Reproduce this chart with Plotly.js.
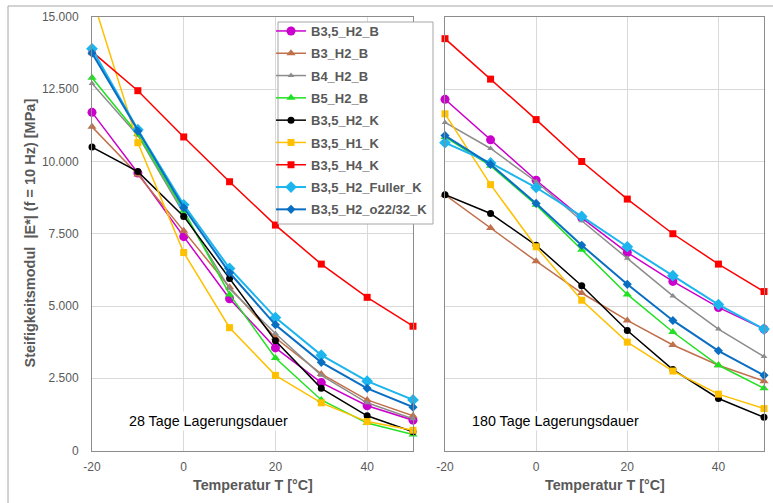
<!DOCTYPE html>
<html>
<head>
<meta charset="utf-8">
<script src="https://cdn.plot.ly/plotly-3.0.1.min.js"></script>
<style>html,body{margin:0;padding:0;background:#fff;}#chart{width:773px;height:503px;}</style>
</head>
<body>
<div id="chart"></div>
<script>
const temps = [-20, -10, 0, 10, 20, 30, 40, 50];
const seriesNames = ["B3,5_H2_B", "B3_H2_B", "B4_H2_B", "B5_H2_B", "B3,5_H2_K", "B3,5_H1_K", "B3,5_H4_K", "B3,5_H2_Fuller_K", "B3,5_H2_o22/32_K"];

// 28 Tage Lagerungsdauer
const d28_B35_H2_B = [11700, 9600, 7400, 5250, 3550, 2350, 1550, 1050];
const d28_B3_H2_B  = [11200, 9550, 7600, 5650, 3900, 2650, 1750, 1200];
const d28_B4_H2_B  = [12700, 10900, 8200, 5600, 4050, 2600, 1650, 1100];
const d28_B5_H2_B  = [12900, 10950, 8300, 5400, 3200, 1750, 950, 550];
const d28_B35_H2_K = [10500, 9650, 8100, 5950, 3800, 2150, 1200, 650];
const d28_B35_H1_K = [15700, 10650, 6850, 4250, 2600, 1650, 1000, 700];
const d28_B35_H4_K = [13800, 12450, 10850, 9300, 7800, 6450, 5300, 4300];
const d28_Fuller_K = [13900, 11100, 8500, 6300, 4600, 3300, 2400, 1750];
const d28_o2232_K  = [13750, 11050, 8400, 6150, 4350, 3050, 2150, 1500];

// 180 Tage Lagerungsdauer
const d180_B35_H2_B = [12150, 10750, 9350, 8050, 6850, 5850, 4950, 4200];
const d180_B3_H2_B  = [8850, 7700, 6550, 5450, 4500, 3650, 2950, 2400];
const d180_B4_H2_B  = [11350, 10450, 9300, 7950, 6650, 5350, 4200, 3250];
const d180_B5_H2_B  = [10850, 9850, 8500, 6950, 5400, 4100, 2950, 2150];
const d180_B35_H2_K = [8850, 8200, 7100, 5700, 4150, 2800, 1800, 1150];
const d180_B35_H1_K = [11650, 9200, 7050, 5200, 3750, 2750, 1950, 1450];
const d180_B35_H4_K = [14250, 12850, 11450, 10000, 8700, 7500, 6450, 5500];
const d180_Fuller_K = [10650, 9950, 9100, 8100, 7050, 6050, 5050, 4200];
const d180_o2232_K  = [10900, 9900, 8550, 7100, 5750, 4500, 3450, 2600];

const yTickVals = [0, 2500, 5000, 7500, 10000, 12500, 15000];
const yTickText = ["0", "2.500", "5.000", "7.500", "10.000", "12.500", "15.000"];
const xTickVals = [-20, 0, 20, 40];
const xTickText = ["-20", "0", "20", "40"];

const left = [d28_B35_H2_B, d28_B3_H2_B, d28_B4_H2_B, d28_B5_H2_B, d28_B35_H2_K, d28_B35_H1_K, d28_B35_H4_K, d28_Fuller_K, d28_o2232_K];
const right = [d180_B35_H2_B, d180_B3_H2_B, d180_B4_H2_B, d180_B5_H2_B, d180_B35_H2_K, d180_B35_H1_K, d180_B35_H4_K, d180_Fuller_K, d180_o2232_K];

const styles = [
  {color: "#CC00CC", symbol: "circle", size: 9, width: 1.5},
  {color: "#C0704A", symbol: "triangle-up", size: 8, width: 1.5},
  {color: "#8C8C8C", symbol: "triangle-up", size: 6, width: 1.5},
  {color: "#22E022", symbol: "triangle-up", size: 8, width: 1.5},
  {color: "#000000", symbol: "circle", size: 7, width: 1.5},
  {color: "#FFC000", symbol: "square", size: 7, width: 1.5},
  {color: "#FF0000", symbol: "square", size: 7, width: 1.5},
  {color: "#1CB5EE", symbol: "diamond", size: 9, width: 2},
  {color: "#0A6FC2", symbol: "diamond", size: 7, width: 2}
];

const traces = [];
function addPanel(data, xa, ya, showLeg) {
  data.forEach((vals, i) => {
    const s = styles[i];
    traces.push({
      x: temps, y: vals, xaxis: xa, yaxis: ya,
      type: "scatter", mode: "lines+markers",
      name: seriesNames[i], legendgroup: "g" + i, showlegend: showLeg,
      line: {color: s.color, width: s.width},
      marker: {color: s.color, symbol: s.symbol, size: s.size},
      cliponaxis: false
    });
  });
}
addPanel(left, "x", "y", true);
addPanel(right, "x2", "y2", false);

const tickFont = {family: "Liberation Sans, Arial, sans-serif", size: 12, color: "#595959"};
const titleFont = {family: "Liberation Sans, Arial, sans-serif", size: 14.3, color: "#595959", weight: "bold"};
const yDom = [(503 - 450.5) / 503, (503 - 17) / 503];

function xAxis(dom, anchor) {
  return {
    domain: dom, anchor: anchor, range: [-20, 50], tickvals: xTickVals, ticktext: xTickText,
    showgrid: true, gridcolor: "#D9D9D9", gridwidth: 1, zeroline: false,
    showline: true, linecolor: "#8C8C8C", linewidth: 1, mirror: true,
    ticks: "", tickfont: tickFont, ticklabelstandoff: 5, fixedrange: true
  };
}
function yAxis(anchor, showLabels) {
  return {
    domain: yDom, anchor: anchor, range: [0, 15000], tickvals: yTickVals, ticktext: yTickText,
    showgrid: true, gridcolor: "#D9D9D9", gridwidth: 1, zeroline: false,
    showline: true, linecolor: "#8C8C8C", linewidth: 1, mirror: true,
    ticks: "", tickfont: tickFont, showticklabels: showLabels, ticklabelstandoff: 10, fixedrange: true
  };
}

const layout = {
  width: 773, height: 503,
  margin: {l: 0, r: 0, t: 0, b: 0},
  paper_bgcolor: "#FFFFFF", plot_bgcolor: "#FFFFFF",
  showlegend: true,
  xaxis: xAxis([92 / 773, 413 / 773], "y"),
  yaxis: yAxis("x", true),
  xaxis2: xAxis([445 / 773, 764 / 773], "y2"),
  yaxis2: yAxis("x2", false),
  legend: {
    x: 271 / 773, y: 1 - 16 / 503, xanchor: "left", yanchor: "top",
    bgcolor: "rgba(0,0,0,0)", borderwidth: 0,
    font: {family: "Liberation Sans, Arial, sans-serif", size: 13, color: "#595959", weight: "bold"},
    tracegroupgap: 2.4, itemwidth: 30, traceorder: "grouped"
  },
  annotations: [
    {text: "28 Tage Lagerungsdauer", xref: "paper", yref: "paper", x: 127 / 773, y: 1 - 421 / 503,
     xanchor: "left", yanchor: "middle", showarrow: false, bgcolor: "#FFFFFF",
     font: {family: "Liberation Sans, Arial, sans-serif", size: 14.3, color: "#000000"}},
    {text: "180 Tage Lagerungsdauer", xref: "paper", yref: "paper", x: 470 / 773, y: 1 - 421 / 503,
     xanchor: "left", yanchor: "middle", showarrow: false, bgcolor: "#FFFFFF",
     font: {family: "Liberation Sans, Arial, sans-serif", size: 14.3, color: "#000000"}},
    {text: "Steifigkeitsmodul\u00a0 |E*| (f = 10 Hz) [MPa]", xref: "paper", yref: "paper",
     x: 29 / 773, y: 1 - 233.5 / 503, xanchor: "center", yanchor: "middle", textangle: -90,
     showarrow: false, font: {family: "Liberation Sans, Arial, sans-serif", size: 14.5, color: "#595959", weight: "bold"}},
    {text: "Temperatur T [°C]", xref: "paper", yref: "paper", x: 252.5 / 773, y: 1 - 485 / 503,
     xanchor: "center", yanchor: "middle", showarrow: false, font: titleFont},
    {text: "Temperatur T [°C]", xref: "paper", yref: "paper", x: 604.5 / 773, y: 1 - 485 / 503,
     xanchor: "center", yanchor: "middle", showarrow: false, font: titleFont}
  ],
  shapes: [
    {type: "line", xref: "paper", yref: "paper", x0: 8 / 773, x1: 1, y0: 1 - 6 / 503, y1: 1 - 6 / 503,
     line: {color: "#A6A6A6", width: 1}},
    {type: "line", xref: "paper", yref: "paper", x0: 8 / 773, x1: 8 / 773, y0: 0, y1: 1 - 6 / 503,
     line: {color: "#A6A6A6", width: 1}},
    {type: "rect", xref: "paper", yref: "paper", layer: "above",
     x0: 278 / 773, x1: 433 / 773, y0: 1 - 224 / 503, y1: 1 - 22 / 503,
     fillcolor: "#FFFFFF", line: {color: "#A6A6A6", width: 1}}
  ]
};

Plotly.newPlot("chart", traces, layout, {displayModeBar: false, staticPlot: true});
</script>
</body>
</html>
